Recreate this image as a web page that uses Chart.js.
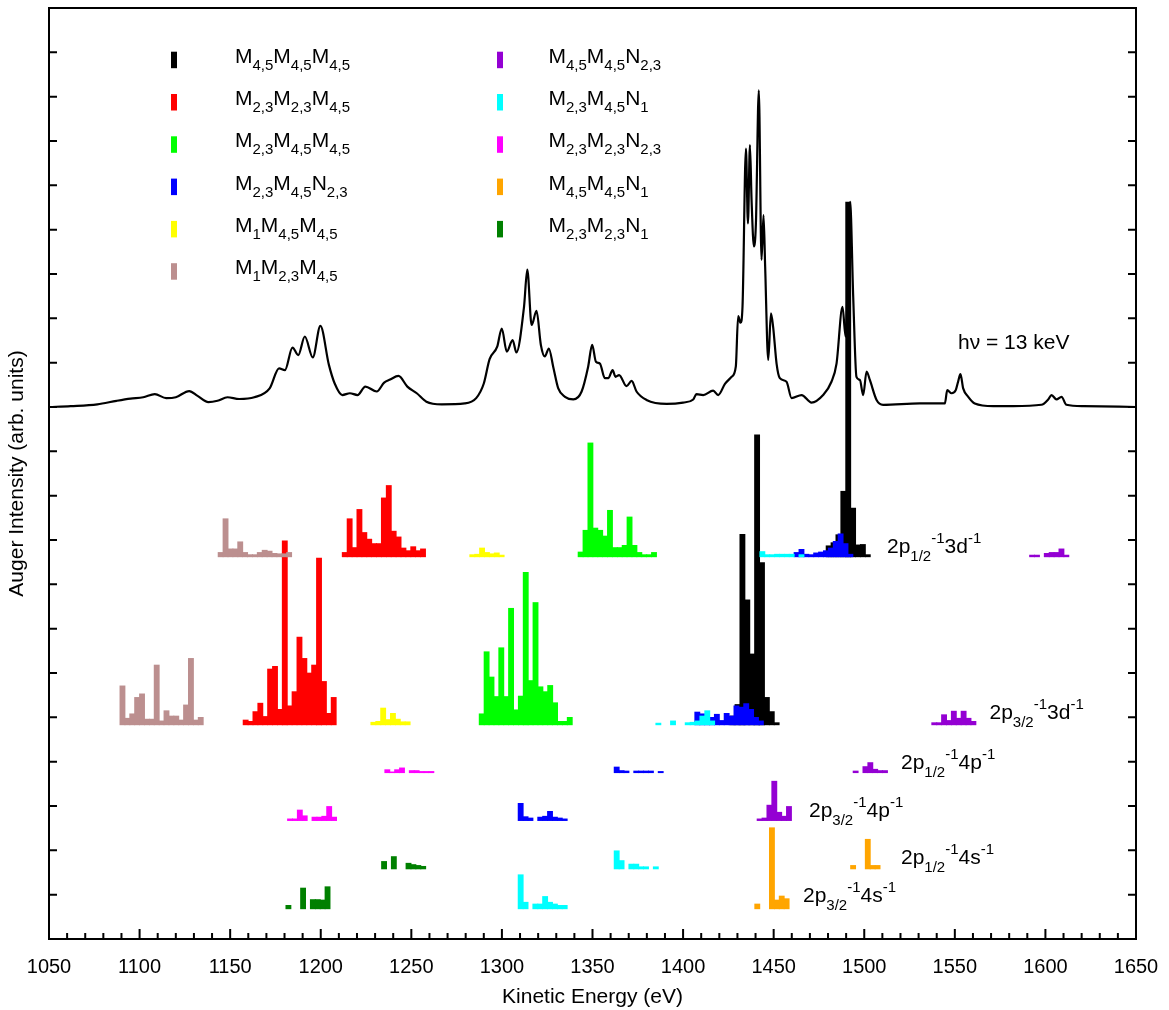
<!DOCTYPE html>
<html>
<head>
<meta charset="utf-8">
<script src="https://cdn.jsdelivr.net/npm/chart.js@4.4.1/dist/chart.umd.min.js"></script>
<style>
  html, body { margin: 0; padding: 0; background: #fff; }
  #wrap { width: 1169px; height: 1010px; }
</style>
</head>
<body>
<div id="wrap"><canvas id="chart" width="1169" height="1010"></canvas></div>
<script>
// measured spectrum at hv = 13 keV: energy (eV) and intensity above its own baseline
const specE = [1050, 1062, 1076.7, 1087.3, 1095, 1102, 1108.4, 1114.7, 1120, 1127.4, 1132, 1138, 1143, 1148.5, 1155, 1163.3,
  1171.8, 1177, 1180.2, 1184.4, 1187.6, 1191.2, 1195.6, 1199.8, 1204.5, 1207.7, 1211.9, 1216.1, 1220.3, 1224.6, 1230.9, 1235,
  1238.3, 1242.9, 1247.8, 1253, 1258.3, 1266.8, 1279.5, 1285.8, 1290, 1293.2, 1297.4, 1299.9, 1302.7, 1305.9, 1308, 1312.2,
  1314, 1316.4, 1319.1, 1321.5, 1323.7, 1325.9, 1328.3, 1331.1, 1334.8, 1339.4, 1344, 1347.6, 1349.8, 1351.9, 1354.1, 1356.8,
  1358.7, 1361.1, 1362.7, 1364.7, 1368.8, 1371.6, 1374.3, 1379.8, 1390.9, 1400, 1405.6, 1407.4, 1411.1, 1416.6, 1419.4, 1423.1,
  1426.8, 1429.1, 1430.4, 1431.7, 1432.8, 1434.7, 1435.8, 1436.9, 1437.8, 1439.1, 1440.2, 1441.8, 1443.3, 1444.4, 1445.3, 1447,
  1448.5, 1449.7, 1451.6, 1453.4, 1457.1, 1459.9, 1465.4, 1470.9, 1477.3, 1481.9, 1484.7, 1488, 1489.7, 1492.2, 1493.9, 1495.7,
  1497.6, 1499.4, 1501.3, 1503.1, 1506.8, 1510.4, 1530.7, 1544.5, 1545.8, 1548.2, 1550.5, 1551.8, 1553.1, 1554.6, 1557.4, 1561,
  1571.2, 1582.2, 1597.8, 1601.5, 1603.4, 1606.1, 1608.9, 1611.6, 1621, 1650];
const specI = [0, 0.02, 0.06, 0.14, 0.19, 0.22, 0.29, 0.2, 0.22, 0.36, 0.25, 0.11, 0.14, 0.22, 0.18, 0.22,
  0.42, 0.87, 0.83, 1.34, 1.17, 1.59, 1.12, 1.83, 0.95, 0.53, 0.27, 0.31, 0.27, 0.46, 0.35, 0.55,
  0.62, 0.7, 0.46, 0.31, 0.12, 0.06, 0.08, 0.2, 0.53, 1.08, 1.36, 1.77, 1.25, 1.51, 1.23, 2.26,
  3.1, 1.85, 2.17, 1.4, 1.14, 1.32, 0.91, 0.42, 0.23, 0.17, 0.35, 0.91, 1.4, 1.02, 0.98, 0.65,
  0.65, 0.83, 0.68, 0.72, 0.47, 0.59, 0.35, 0.16, 0.07, 0.1, 0.17, 0.29, 0.27, 0.37, 0.27, 0.52,
  0.68, 0.91, 2.05, 1.9, 2.26, 5.83, 4.14, 5.91, 4.67, 3.62, 4.14, 7.14, 3.32, 4.33, 3.17, 1.06,
  2.11, 1.81, 0.98, 0.65, 0.57, 0.2, 0.27, 0.1, 0.27, 0.57, 0.98, 2.26, 1.59, 4.63, 2.49, 0.68,
  0.61, 0.27, 0.8, 0.61, 0.16, 0.05, 0.08, 0.08, 0.38, 0.31, 0.38, 0.57, 0.74, 0.42, 0.23, 0.08,
  0.02, 0.02, 0.05, 0.17, 0.27, 0.17, 0.23, 0.05, 0.02, 0];
const SPEC_BASE = 12;

// baselines of the calculated rows on the (unlabelled) intensity axis
const BASE_D12 = 8.62, BASE_D32 = 4.83, BASE_P12 = 3.75, BASE_P32 = 2.67, BASE_S12 = 1.58, BASE_S32 = 0.68;
const BIN = 2.7; // eV per histogram bin

// bin heights, left to right; the first bin starts at the energy given in `groups`
const m1m23m45_d12 = [0.1, 0.86, 0.18, 0.18, 0.34, 0.1, 0.05, 0.05, 0.1, 0.15, 0.13, 0.08, 0.07, 0.07, 0.1];
const m23m23m45_d12 = [0.1, 0.86, 0.21, 1.07, 0.55, 0.4, 0.3, 0.3, 1.33, 1.61, 0.58, 0.45, 0.2, 0.14, 0.23, 0.14, 0.18];
const m1m45m45_d12 = [0.05, 0.06, 0.2, 0.1, 0.07, 0.09, 0.04];
const m23m45m45_d12 = [0.11, 0.6, 2.57, 0.65, 0.6, 0.47, 1.05, 0.21, 0.21, 0.26, 0.9, 0.26, 0.1, 0.05, 0.05, 0.1];
const m23m45n1_d12 = [0.12, 0.05, 0.05, 0.06, 0.06, 0.06, 0.06, 0, 0.05];
const m23m45n23_d12 = [0.1, 0.17, 0.06, 0.05, 0.09, 0.11, 0.14, 0.2, 0.35, 0.52, 0.3, 0.06];
const m45m45m45_d12 = [0.25, 0.32, 0.5, 1.48, 8.0, 1.1, 0.27, 0.28, 0.05];
const m45m45n23_d12 = [0.04, 0.04, 0, 0.08, 0.1, 0.1, 0.18, 0.04];

const m1m23m45_d32 = [0.88, 0.15, 0.25, 0.62, 0.7, 0.13, 0.13, 1.35, 0.09, 0.32, 0.2, 0.2, 0.11, 0.45, 1.5, 0.11, 0.17];
const m23m23m45_d32 = [0.11, 0.08, 0.3, 0.49, 0.19, 1.26, 1.32, 0.35, 4.15, 0.43, 0.75, 1.98, 1.5, 1.17, 1.35, 3.76, 0.98, 0.26, 0.62];
const m1m45m45_d32 = [0.06, 0.08, 0.38, 0.12, 0.26, 0.13, 0.07, 0.07];
const m23m45m45_d32 = [0.25, 1.65, 1.08, 0.64, 1.74, 0.64, 2.63, 0.34, 0.65, 3.44, 1.0, 2.76, 0.86, 0.75, 0.89, 0.5, 0.08, 0.08, 0.17];
const m23m45n1_d32 = [0.04, 0, 0, 0.09, 0, 0, 0.05, 0.06, 0.09, 0.2, 0.32, 0.09];
const m23m45n23_d32 = [0.29, 0.25, 0.09, 0.17, 0.24, 0.1, 0.26, 0.2, 0.43, 0.4, 0.48, 0.35, 0.17, 0.09];
const m45m45m45_d32 = [0.2, 0.46, 4.3, 2.82, 1.6, 6.54, 3.66, 0.62, 0.3, 0.05];
const m45m45n23_d32 = [0.05, 0.05, 0.23, 0.1, 0.31, 0.15, 0.31, 0.15, 0.08];

const m23m23n23_p12 = [0.07, 0.02, 0.07, 0.11, 0, 0.05, 0.05, 0.03, 0.03, 0.03];
const m23m45n23_p12 = [0.13, 0.05, 0.04, 0, 0.04, 0.04, 0.04, 0.04, 0, 0.03];
const m45m45n23_p12 = [0.04, 0, 0.14, 0.23, 0.08, 0.05, 0.05];

const m23m23n23_p32 = [0.04, 0.04, 0.24, 0.11, 0, 0.08, 0.08, 0.1, 0.32, 0.08];
const m23m45n23_p32 = [0.39, 0.09, 0.06, 0, 0.08, 0.1, 0.21, 0.08, 0.06, 0.04];
const m45m45n23_p32 = [0.04, 0.06, 0.35, 0.89, 0.19, 0.1, 0.32];

const m23m23n1_s12 = [0.17, 0, 0.28, 0, 0, 0.13, 0.1, 0.08, 0.06];
const m23m45n1_s12 = [0.41, 0.19, 0, 0.11, 0.11, 0.05, 0.05, 0, 0.05];
const m45m45n1_s12 = [0.08, 0, 0, 0.67, 0.08, 0.08];

const m23m23n1_s32 = [0.08, 0, 0, 0.47, 0, 0.21, 0.21, 0.2, 0.5];
const m23m45n1_s32 = [0.77, 0.15, 0, 0.11, 0.11, 0.28, 0.15, 0.11, 0.08, 0.08];
const m45m45n1_s32 = [0.11, 0, 0, 1.83, 0.2, 0.29, 0.23];

const names = ['M_{4,5}M_{4,5}M_{4,5}', 'M_{2,3}M_{2,3}M_{4,5}', 'M_{2,3}M_{4,5}M_{4,5}', 'M_{2,3}M_{4,5}N_{2,3}',
  'M_{1}M_{4,5}M_{4,5}', 'M_{1}M_{2,3}M_{4,5}', 'M_{4,5}M_{4,5}N_{2,3}', 'M_{2,3}M_{4,5}N_{1}',
  'M_{2,3}M_{2,3}N_{2,3}', 'M_{4,5}M_{4,5}N_{1}', 'M_{2,3}M_{2,3}N_{1}'];
const colors = ['#000000', '#ff0000', '#00ff00', '#0000ff', '#ffff00', '#bc8f8f', '#9400d3', '#00ffff', '#ff00ff', '#ffa500', '#008000'];

// [transition index, row baseline, first bin edge (eV), heights]
const groups = [
  [5, BASE_D12, 1143.4, m1m23m45_d12], [1, BASE_D12, 1211.9, m23m23m45_d12], [4, BASE_D12, 1282.3, m1m45m45_d12],
  [2, BASE_D12, 1342.1, m23m45m45_d12], [7, BASE_D12, 1442.4, m23m45n1_d12], [3, BASE_D12, 1461.3, m23m45n23_d12],
  [0, BASE_D12, 1479.0, m45m45m45_d12], [6, BASE_D12, 1591.3, m45m45n23_d12],
  [5, BASE_D32, 1089.2, m1m23m45_d32], [1, BASE_D32, 1157.2, m23m23m45_d32], [4, BASE_D32, 1227.7, m1m45m45_d32],
  [2, BASE_D32, 1287.5, m23m45m45_d32], [7, BASE_D32, 1385.0, m23m45n1_d32], [3, BASE_D32, 1406.5, m23m45n23_d32],
  [0, BASE_D32, 1426.0, m45m45m45_d32], [6, BASE_D32, 1537.3, m45m45n23_d32],
  [8, BASE_P12, 1235.4, m23m23n23_p12], [3, BASE_P12, 1362.0, m23m45n23_p12], [6, BASE_P12, 1493.9, m45m45n23_p12],
  [8, BASE_P32, 1181.7, m23m23n23_p32], [3, BASE_P32, 1309.0, m23m45n23_p32], [6, BASE_P32, 1440.9, m45m45n23_p32],
  [10, BASE_S12, 1233.6, m23m23n1_s12], [7, BASE_S12, 1362.0, m23m45n1_s12], [9, BASE_S12, 1492.5, m45m45n1_s12],
  [10, BASE_S32, 1180.8, m23m23n1_s32], [7, BASE_S32, 1309.0, m23m45n1_s32], [9, BASE_S32, 1439.6, m45m45n1_s32]
];

const FONT = '"Liberation Sans", Arial, Helvetica, sans-serif';

const barSets = names.map((n, i) => ({
  type: 'bar',
  label: n,
  data: [],
  backgroundColor: colors[i],
  borderWidth: 0,
  barThickness: 5.2,
  grouped: false,
  order: 30 - i
}));
groups.forEach(([k, base, start, h]) => {
  h.forEach((v, j) => {
    if (v > 0) barSets[k].data.push({ x: start + (j + 0.5) * BIN, y: [base, base + v] });
  });
});

// text with _{sub} and ^{sup} parts
function drawRich(ctx, text, x, y, size, small, drop, rise) {
  const parts = text.split(/([_^]\{[^}]*\})/).filter(Boolean);
  parts.forEach(p => {
    let s = p, f = size, dy = 0;
    if (p[0] === '_') { s = p.slice(2, -1); f = small; dy = drop; }
    else if (p[0] === '^') { s = p.slice(2, -1); f = small; dy = -rise; }
    ctx.font = f + 'px ' + FONT;
    ctx.fillText(s, x, y + dy);
    x += ctx.measureText(s).width;
  });
}

const decor = {
  id: 'decor',
  afterDatasetsDraw(chart) {
    const { ctx, chartArea: a, scales: { x, y } } = chart;
    ctx.save();
    ctx.strokeStyle = '#000';
    ctx.lineWidth = 2;
    ctx.strokeRect(a.left, a.top, a.right - a.left, a.bottom - a.top);
    ctx.beginPath();
    for (let e = 1050; e <= 1650; e += 10) {
      const px = x.getPixelForValue(e);
      const len = e % 50 === 0 ? 10 : 6;
      ctx.moveTo(px, a.bottom);
      ctx.lineTo(px, a.bottom - len);
    }
    for (let v = 1; v < 21; v++) {
      const py = y.getPixelForValue(v);
      ctx.moveTo(a.left, py); ctx.lineTo(a.left + 8, py);
      ctx.moveTo(a.right, py); ctx.lineTo(a.right - 8, py);
    }
    ctx.stroke();

    // legend in two columns
    ctx.textBaseline = 'alphabetic';
    names.forEach((n, i) => {
      const col = i < 6 ? 0 : 1;
      const row = i < 6 ? i : i - 6;
      const by = 62.7 + row * 42.3;
      const mx = col ? 497 : 171;
      const tx = col ? 548.5 : 235;
      ctx.fillStyle = colors[i];
      ctx.fillRect(mx, by - 11, 6, 16.5);
      ctx.fillStyle = '#000';
      drawRich(ctx, n, tx, by, 21, 15, 7, 10);
    });

    // row labels
    const labels = [
      ['2p_{1/2}^{-1}3d^{-1}', 887, 553],
      ['2p_{3/2}^{-1}3d^{-1}', 989.5, 718.5],
      ['2p_{1/2}^{-1}4p^{-1}', 901, 769],
      ['2p_{3/2}^{-1}4p^{-1}', 809, 817],
      ['2p_{1/2}^{-1}4s^{-1}', 901, 864],
      ['2p_{3/2}^{-1}4s^{-1}', 803, 902]
    ];
    labels.forEach(([t, lx, ly]) => drawRich(ctx, t, lx, ly, 21, 15, 8, 10));
    ctx.font = '21px ' + FONT;
    ctx.fillText('h\u03bd = 13 keV', 958, 349);
    ctx.restore();
  }
};

new Chart(document.getElementById('chart'), {
  type: 'bar',
  data: {
    datasets: [
      {
        type: 'line',
        label: 'h\u03bd = 13 keV',
        data: specE.map((e, i) => ({ x: e, y: SPEC_BASE + specI[i] })),
        borderColor: '#000',
        borderWidth: 2.2,
        pointRadius: 0,
        cubicInterpolationMode: 'monotone',
        order: 0
      },
      ...barSets
    ]
  },
  options: {
    responsive: false,
    animation: false,
    events: [],
    layout: { padding: { top: 8, right: 33, left: 0, bottom: 0 } },
    plugins: { legend: { display: false }, tooltip: { enabled: false } },
    scales: {
      x: {
        type: 'linear',
        min: 1050,
        max: 1650,
        offset: false,
        grid: { display: false, drawTicks: false },
        border: { display: false },
        ticks: {
          stepSize: 50, autoSkip: false, maxRotation: 0, padding: 16, color: '#000',
          font: { size: 20, family: FONT },
          callback: v => String(v)
        },
        title: { display: true, text: 'Kinetic Energy (eV)', color: '#000', font: { size: 21, family: FONT }, padding: { top: 0, bottom: 0 } },
        afterFit: s => { s.height = 71; s.paddingLeft = 0; s.paddingRight = 0; }
      },
      y: {
        min: 0,
        max: 21,
        grid: { display: false, drawTicks: false },
        border: { display: false },
        ticks: { display: false },
        title: { display: true, text: 'Auger Intensity (arb. units)', color: '#000', font: { size: 21, family: FONT }, padding: { top: 5, bottom: 0 } },
        afterFit: s => { s.width = 49; }
      }
    }
  },
  plugins: [decor]
});
</script>
</body>
</html>
